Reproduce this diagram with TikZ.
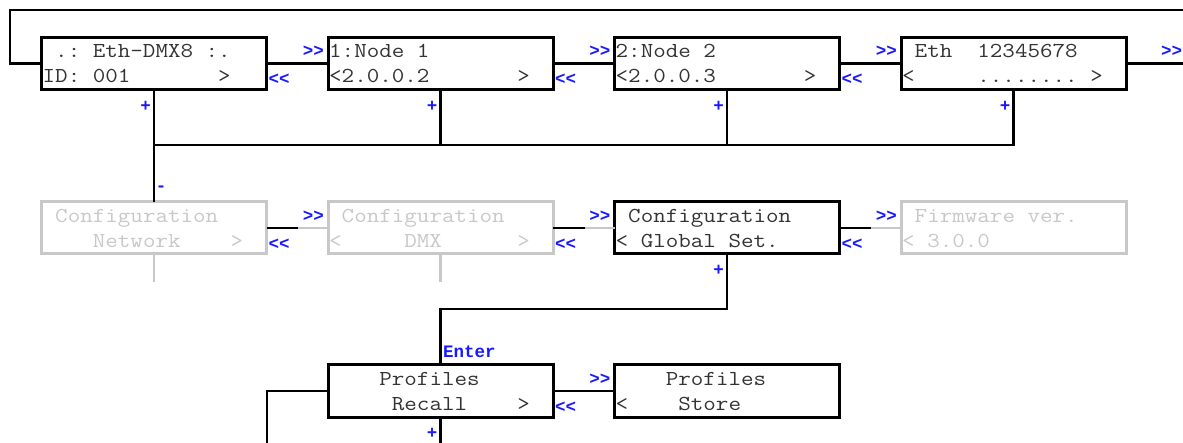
\documentclass[tikz,border=0pt]{standalone}
\usepackage{fontspec}
\setmonofont{Liberation Mono}
\newfontfamily\lcdfont[FakeStretch=1.143]{Latin Modern Mono}
\usetikzlibrary{calc}
\definecolor{txt}{RGB}{51,51,51}
\definecolor{dim}{RGB}{200,200,200}
\definecolor{keyblue}{RGB}{25,25,255}
\tikzset{
  box/.style={draw, line width=3pt, minimum width=225pt, minimum height=52pt, inner sep=0pt, outer sep=0pt},
  dimbox/.style={box, draw=dim},
  wire/.style={line width=2.8pt},
  dimwire/.style={wire, draw=dim},
  lcdtext/.style={anchor=base west, inner sep=0pt, font=\fontsize{21.3}{25}\selectfont\lcdfont},
  keylbl/.style={inner sep=0pt, text=keyblue, font=\fontsize{17.5}{20}\selectfont\ttfamily\bfseries},
}
\newcommand\lcd[4][txt]{%
  \node[lcdtext, text=#1] (#2-a) at ($(#2.center)+(-111.5,-5.5)$) {#3};
  \node[lcdtext, text=#1] (#2-b) at ($(#2.center)+(-111.5,19.5)$) {#4};}
\newcommand\keys[2]{%
  \node[keylbl, anchor=east] (#1-fw) at ($(#2.west)+(-4,-12)$) {>>};
  \node[keylbl, anchor=west] (#2-bw) at ($(#1.east)+(2,16)$) {<<};}
\newcommand\plusmark[1]{%
  \node[keylbl] (#1-plus) at ($(#1.south)+(-8.5,17)$) {+};}
\begin{document}
\begin{tikzpicture}[x=1pt, y=-1pt]
\useasboundingbox (0,0) rectangle (1183,443);
% top row
\node[box] (b1) at (154,63.5) {};
\node[box] (b2) at (440.5,63.5) {};
\node[box] (b3) at (727,63.5) {};
\node[box] (b4) at (1013.5,63.5) {};
% middle row
\node[dimbox] (n1) at (154,228) {};
\node[dimbox] (n2) at (440.5,228) {};
\node[box] (n3) at (727,228) {};
\node[dimbox] (n4) at (1013.5,228) {};
% bottom row
\node[box] (r1) at (440.5,391) {};
\node[box] (r2) at (727,391) {};
% texts
\lcd{b1}{~.:~Eth-DMX8~:.}{ID:~001~~~~~~~>}
\lcd{b2}{1:Node~1}{<2.0.0.2~~~~~~~>}
\lcd{b3}{2:Node~2}{<2.0.0.3~~~~~~~>}
\lcd{b4}{~Eth~~12345678}{<~~~~~........~>}
\lcd[dim]{n1}{~Configuration}{~~~~Network~~~~>}
\lcd[dim]{n2}{~Configuration}{<~~~~~DMX~~~~~~>}
\lcd{n3}{~Configuration}{<~Global~Set.}
\lcd[dim]{n4}{~Firmware~ver.}{<~3.0.0}
\lcd{r1}{~~~~Profiles}{~~~~~Recall~~~~>}
\lcd{r2}{~~~~Profiles}{<~~~~Store}
% coordinates
\coordinate (loopA) at (10,10);
\coordinate (loopB) at (1190,10);
\coordinate (rightend) at (1190,63.5);
\coordinate (bus) at (0,145);
\coordinate (jn) at (0,309);
\coordinate (botL) at (267,450);
\coordinate (botY) at (0,450);
% top wires
\draw[wire] (b1.west) -| (loopA) -- (loopB);
\draw[wire] (b4.east) -- (rightend);
\draw[wire] (b1.east) -- (b2.west);
\draw[wire] (b2.east) -- (b3.west);
\draw[wire] (b3.east) -- (b4.west);
\draw[wire] (b1.south) -- (n1.north);
\draw[wire] (b2.south) -- (b2.south |- bus);
\draw[wire] (b3.south) -- (b3.south |- bus);
\draw[wire] (b1.south |- bus) -- (b4.south |- bus) -- (b4.south);
% middle wires
\draw[wire] (n1.east) -- ++(31.5,0) coordinate (m1);
\draw[dimwire] (m1) -- (n2.west);
\draw[wire] (n2.east) -- ++(31.5,0) coordinate (m2);
\draw[dimwire] (m2) -- (n3.west);
\draw[wire] (n3.east) -- ++(31.5,0) coordinate (m3);
\draw[dimwire] (m3) -- (n4.west);
\draw[dimwire] (n1.south) -- ++(0,28) coordinate (n1end);
\draw[dimwire] (n2.south) -- ++(0,28) coordinate (n2end);
\draw[wire] (n3.south) |- (r1.north |- jn) -- (r1.north);
% bottom wires
\draw[wire] (r1.east) -- (r2.west);
\draw[wire] (r1.west) -| (botL);
\draw[wire] (r1.south) -- (r1.south |- botY);
% blue key labels
\keys{b1}{b2}
\keys{b2}{b3}
\keys{b3}{b4}
\node[keylbl, anchor=west] (b4-fw) at ($(b4.east)+(35,-12)$) {>>};
\keys{n1}{n2}
\keys{n2}{n3}
\keys{n3}{n4}
\keys{r1}{r2}
\plusmark{b1}
\plusmark{b2}
\plusmark{b3}
\plusmark{b4}
\node[keylbl] (n3-plus) at ($(n3.south)+(-8.5,16)$) {+};
\node[keylbl] (r1-plus) at ($(r1.south)+(-8.5,16.5)$) {+};
\node[keylbl] (n1-minus) at ($(n1.north)+(7,-13)$) {-};
\node[keylbl, anchor=base west] (enter) at ($(r1.north)+(2.5,-7.5)$) {Enter};
\end{tikzpicture}
\end{document}
